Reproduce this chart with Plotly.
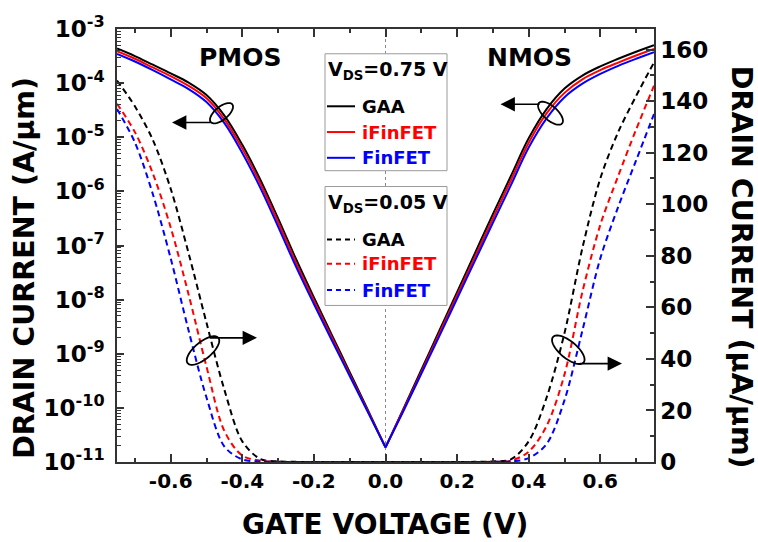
import numpy as np
import plotly.graph_objects as go

# ---------------------------------------------------------------- data
# Gate voltage sweep (V)
gate_voltage = [-0.75, -0.70, -0.65, -0.60, -0.55, -0.50, -0.45, -0.40,
                -0.35, -0.30, -0.25, -0.20, -0.15, -0.10, -0.05, 0.00,
                0.05, 0.10, 0.15, 0.20, 0.25, 0.30, 0.35, 0.40,
                0.45, 0.50, 0.55, 0.60, 0.65, 0.70, 0.75]

# V_DS = 0.75 V : drain current as log10(A/um), left log axis
gaa_vds075_log10 = [-3.36, -3.50, -3.66, -3.82, -3.99, -4.22, -4.60, -5.14,
                    -5.78, -6.50, -7.25, -7.96, -8.65, -9.34, -10.03, -10.73,
                    -10.02, -9.30, -8.58, -7.86, -7.14, -6.42, -5.72, -5.02,
                    -4.48, -4.10, -3.86, -3.69, -3.55, -3.42, -3.30]
ifinfet_vds075_log10 = [-3.41, -3.55, -3.71, -3.87, -4.05, -4.28, -4.67, -5.21,
                        -5.85, -6.57, -7.32, -8.02, -8.70, -9.38, -10.05, -10.73,
                        -10.04, -9.34, -8.63, -7.92, -7.21, -6.50, -5.80, -5.10,
                        -4.56, -4.18, -3.93, -3.76, -3.62, -3.49, -3.37]
finfet_vds075_log10 = [-3.46, -3.60, -3.76, -3.93, -4.11, -4.35, -4.74, -5.29,
                       -5.93, -6.65, -7.39, -8.08, -8.75, -9.41, -10.07, -10.73,
                       -10.06, -9.37, -8.68, -7.98, -7.28, -6.58, -5.89, -5.19,
                       -4.65, -4.26, -4.01, -3.83, -3.68, -3.55, -3.43]

# V_DS = 0.05 V : drain current in uA/um, right linear axis
gaa_vds005 = [148, 138, 125, 106, 81, 54, 28, 8,
              1.2, 0.2, 0.05, 0.01, 0, 0, 0, 0,
              0, 0, 0, 0.01, 0.05, 0.2, 1.0, 8,
              25, 50, 83, 110, 128, 142, 155]
ifinfet_vds005 = [139, 128, 112, 91, 65, 37, 12, 2.5,
                  0.5, 0.1, 0.02, 0, 0, 0, 0, 0,
                  0, 0, 0, 0, 0.02, 0.1, 0.5, 4,
                  14, 34, 66, 92, 111, 129, 146]
finfet_vds005 = [137, 124, 104, 79, 51, 25, 6, 1.0,
                 0.2, 0.05, 0.01, 0, 0, 0, 0, 0,
                 0, 0, 0, 0, 0.01, 0.05, 0.2, 1.5,
                 7, 24, 51, 79, 99, 117, 135]

devices = ["GAA", "iFinFET", "FinFET"]
device_colors = ["#000000", "#ff0000", "#0000ff"]

# axis ticks
x_tick_vals = [-0.6, -0.4, -0.2, 0.0, 0.2, 0.4, 0.6]
x_tick_text = ["-0.6", "-0.4", "-0.2", "0.0", "0.2", "0.4", "0.6"]
x_minor_vals = [-0.7, -0.5, -0.3, -0.1, 0.1, 0.3, 0.5, 0.7]
log_exponents = [-11, -10, -9, -8, -7, -6, -5, -4, -3]
log_tick_vals = [10.0 ** e for e in log_exponents]
log_tick_text = [f"10<sup>{e}</sup>" for e in log_exponents]
lin_tick_vals = [0, 20, 40, 60, 80, 100, 120, 140, 160]

# ---------------------------------------------------------------- layout helpers
W, H = 758, 542
ML, MR, MT, MB = 117, 104, 25, 80
PW, PH = W - ML - MR, H - MT - MB
FONT = "DejaVu Sans"
AXIS_COLOR = "#333333"
ZERO_IDX = gate_voltage.index(0.0)


def px(x):
    return (x - ML) / PW


def py(y):
    return (H - MB - y) / PH


def ellipse_path(cx, cy, a, b, deg):
    t = np.linspace(0, 2 * np.pi, 61)
    r = np.radians(deg)
    xs = cx + a * np.cos(t) * np.cos(r) - b * np.sin(t) * np.sin(r)
    ys = cy - (a * np.cos(t) * np.sin(r) + b * np.sin(t) * np.cos(r))
    pts = [f"{px(x):.5f},{py(y):.5f}" for x, y in zip(xs, ys)]
    return "M" + " L".join(pts) + " Z"


fig = go.Figure()

high_vds = [gaa_vds075_log10, ifinfet_vds075_log10, finfet_vds075_log10]
low_vds = [gaa_vds005, ifinfet_vds005, finfet_vds005]

# V_DS = 0.75 V: PMOS and NMOS branches drawn separately so they meet in a sharp V at 0 V
branches = [slice(0, ZERO_IDX + 1), slice(ZERO_IDX, None)]
for name, color, logs in zip(devices, device_colors, high_vds):
    current = [10.0 ** v for v in logs]
    for br in branches:
        fig.add_trace(go.Scatter(
            x=gate_voltage[br], y=current[br], name=name,
            mode="lines", line=dict(color=color, width=2, shape="spline", smoothing=1.0),
            yaxis="y", showlegend=False))

for name, color, vals in zip(devices, device_colors, low_vds):
    fig.add_trace(go.Scatter(
        x=gate_voltage, y=vals, name=name,
        mode="lines", line=dict(color=color, width=2, dash="6px,4px",
                                shape="spline", smoothing=0.9),
        yaxis="y2", showlegend=False))

shapes = []
# dotted line at V_G = 0
shapes.append(dict(type="line", xref="x", yref="paper", x0=0, x1=0, y0=0, y1=1,
                   line=dict(color="#8a8a8a", width=1, dash="dot"), layer="below"))

# legend boxes
boxes = [(325, 50, 447, 168), (325, 184, 447, 304)]
for x0, y0, x1, y1 in boxes:
    shapes.append(dict(type="rect", xref="paper", yref="paper",
                       x0=px(x0), x1=px(x1), y0=py(y1), y1=py(y0),
                       line=dict(color="#9a9a9a", width=1), fillcolor="white",
                       layer="below"))

annotations = []
legend_groups = [
    ("V<sub>DS</sub>=0.75 V", 67, [103, 129, 155], "solid"),
    ("V<sub>DS</sub>=0.05 V", 201, [237.5, 262, 288.5], "5px,4px"),
]
for title, ty, rows, dash in legend_groups:
    annotations.append(dict(text=title, xref="paper", yref="paper",
                            x=px(326), y=py(ty), xanchor="left", yanchor="middle",
                            showarrow=False,
                            font=dict(family=FONT, size=19, weight="bold", color="black")))
    for name, color, ry in zip(devices, device_colors, rows):
        shapes.append(dict(type="line", xref="paper", yref="paper",
                           x0=px(327), x1=px(355), y0=py(ry), y1=py(ry),
                           line=dict(color=color, width=2, dash=dash)))
        annotations.append(dict(text=name, xref="paper", yref="paper",
                                x=px(360), y=py(ry), xanchor="left", yanchor="middle",
                                showarrow=False,
                                font=dict(family=FONT, size=18, weight="bold", color=color)))

# ellipses marking curve groups, with arrows toward their axis
for cx, cy, a, b, deg in [(221.5, 110, 14, 6.5, 40), (203, 349.5, 20, 8.5, 40),
                          (550.5, 110, 15.5, 7, -42), (568.3, 348.7, 20, 8.5, -40)]:
    shapes.append(dict(type="path", xref="paper", yref="paper",
                       path=ellipse_path(cx, cy, a, b, deg),
                       line=dict(color="black", width=1.8)))

for hx, hy, tx, ty in [(172, 119.3, 211.7, 119.3), (257, 336.7, 208.3, 336.7),
                       (500.5, 101, 541, 101), (622, 362.7, 578.3, 362.7)]:
    annotations.append(dict(text="", xref="paper", yref="paper", x=px(hx), y=py(hy),
                            ax=tx - hx, ay=ty - hy, showarrow=True,
                            arrowhead=2, arrowsize=1.8, arrowwidth=1.6,
                            arrowcolor="black"))

# region labels
for label, lx in [("PMOS", 240), ("NMOS", 529)]:
    annotations.append(dict(text=label, xref="paper", yref="paper", x=px(lx), y=py(54),
                            xanchor="center", yanchor="middle", showarrow=False,
                            font=dict(family=FONT, size=25, weight="bold", color="black")))

# axis titles
title_font = dict(family=FONT, size=28.5, weight="bold", color="black")
annotations.append(dict(text="DRAIN CURRENT (A/\u03bcm)", xref="paper", yref="paper",
                        x=px(25), y=py(266), textangle=-90, showarrow=False,
                        xanchor="center", yanchor="middle", font=title_font))
annotations.append(dict(text="DRAIN CURRENT (\u03bcA/\u03bcm)", xref="paper", yref="paper",
                        x=px(741), y=py(265), textangle=90, showarrow=False,
                        xanchor="center", yanchor="middle", font=title_font))
annotations.append(dict(text="GATE VOLTAGE (V)", xref="paper", yref="paper",
                        x=px(385), y=py(525), showarrow=False,
                        xanchor="center", yanchor="middle",
                        font=dict(family=FONT, size=28, weight="bold", color="black")))

fig.update_layout(
    width=W, height=H,
    margin=dict(l=ML, r=MR, t=MT, b=MB, pad=0),
    paper_bgcolor="white", plot_bgcolor="white",
    showlegend=False,
    xaxis=dict(range=[-0.75, 0.75], tickmode="array", tickvals=x_tick_vals,
               ticktext=x_tick_text, ticks="inside", ticklen=8, tickwidth=1.5,
               tickcolor=AXIS_COLOR, showline=True, linecolor=AXIS_COLOR,
               linewidth=1.5, mirror="ticks", showgrid=False, zeroline=False,
               minor=dict(tickmode="array", tickvals=x_minor_vals, ticks="inside",
                          ticklen=4, tickwidth=1.5, tickcolor=AXIS_COLOR),
               tickfont=dict(family=FONT, size=20, weight="bold", color="black")),
    yaxis=dict(type="log", range=[-11, -3], tickmode="array", tickvals=log_tick_vals,
               ticktext=log_tick_text, ticks="inside", ticklen=7, tickwidth=1.5,
               tickcolor=AXIS_COLOR, showline=True, linecolor=AXIS_COLOR,
               linewidth=1.5, showgrid=False, zeroline=False, ticklabelstandoff=6,
               minor=dict(dtick="D1", ticks="inside", ticklen=4, tickwidth=1,
                          tickcolor=AXIS_COLOR),
               tickfont=dict(family=FONT, size=23, weight="bold", color="black")),
    yaxis2=dict(overlaying="y", side="right", range=[0, 168], tickmode="array",
                tickvals=lin_tick_vals, ticks="inside", ticklen=8, tickwidth=1.5,
                tickcolor=AXIS_COLOR, showline=True, linecolor=AXIS_COLOR,
                linewidth=1.5, showgrid=False, zeroline=False,
                minor=dict(tick0=0, dtick=10, ticks="inside", ticklen=4,
                           tickwidth=1.5, tickcolor=AXIS_COLOR),
                tickfont=dict(family=FONT, size=23, weight="bold", color="black")),
    shapes=shapes,
    annotations=annotations,
)

fig.write_html("out.html")
